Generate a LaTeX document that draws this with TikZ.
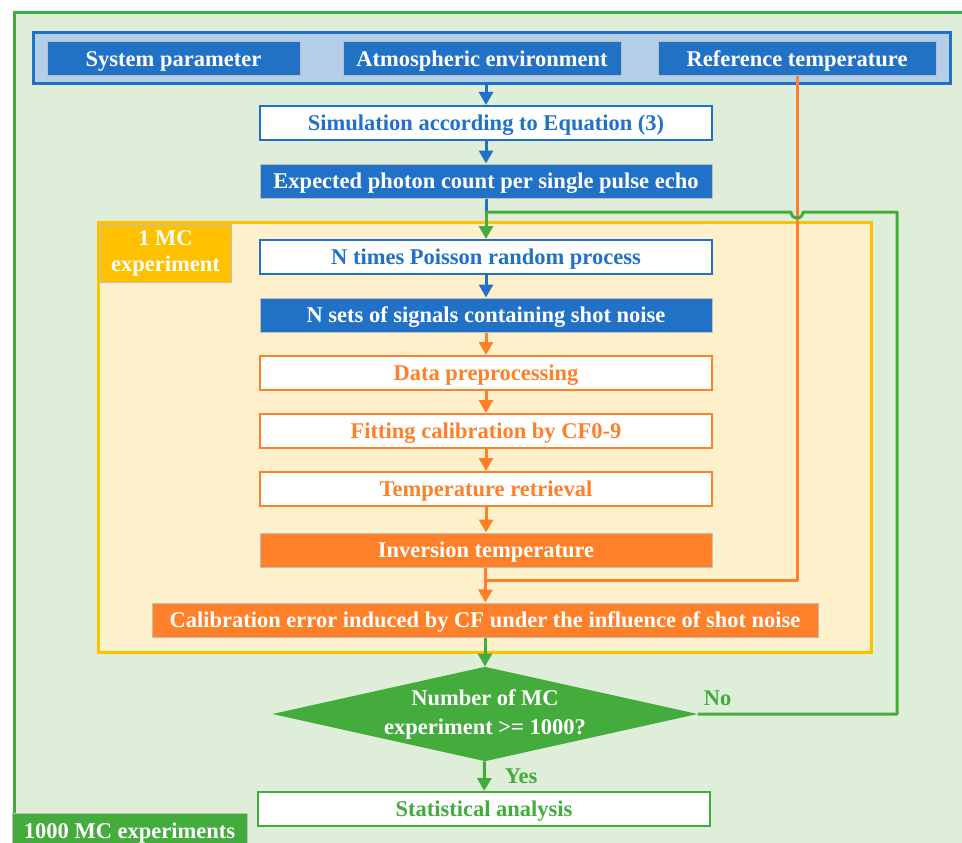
\documentclass[tikz,border=0pt]{standalone}
\usepackage{fontspec}
\setmainfont{Liberation Serif}
\usetikzlibrary{shapes.geometric,arrows.meta}

\definecolor{cBlue}{RGB}{33,114,199}
\definecolor{cLightBlue}{RGB}{180,206,233}
\definecolor{cGreen}{RGB}{67,172,60}
\definecolor{cLightGreen}{RGB}{223,238,217}
\definecolor{cYellow}{RGB}{255,192,0}
\definecolor{cLightYellow}{RGB}{255,240,204}
\definecolor{cOrange}{RGB}{255,128,40}
\definecolor{cGray}{RGB}{190,190,190}

\begin{document}
\begin{tikzpicture}[
	x=1pt, y=-1pt,
	% Define the style for the nodes
	every node/.style={font=\fontsize{22.5}{27}\selectfont\bfseries, inner sep=0pt},
	flowbox/.style={rectangle, minimum width=452, minimum height=34, text height=20, text depth=5},
	blueFill/.style={flowbox, fill=cBlue, draw=cGray, line width=1, text=white},
	blueLine/.style={flowbox, fill=white, draw=cBlue, line width=2, text=cBlue},
	orangeFill/.style={flowbox, fill=cOrange, draw=cGray, line width=1, text=white},
	orangeLine/.style={flowbox, fill=white, draw=cOrange, line width=2, text=cOrange},
	greenLine/.style={flowbox, fill=white, draw=cGreen, line width=2, text=cGreen},
	tagbox/.style={rectangle, draw=cGray, line width=1, text=white, align=center},
	% Define the style for the connectors
	link/.style={line width=3},
	linkArrow/.style={line width=3, -{Triangle[width=14pt,length=13pt]}}
	]
	
	\useasboundingbox (0,0) rectangle (962,843);
	\clip (0,0) rectangle (962,843);
	
	% --- FRAMES ---
	\draw[cGreen, line width=3, fill=cLightGreen] (14,13) rectangle (990,870);
	\node (inputs) at (491.5,58.5) [rectangle, minimum width=917, minimum height=51, fill=cLightBlue, draw=cBlue, line width=3] {};
	\node (mcFrame) at (484.5,437) [rectangle, minimum width=773, minimum height=430, fill=cLightYellow, draw=cYellow, line width=3] {};
	\node (mcTag) at (165.5,253) [tagbox, fill=cYellow, minimum width=131, minimum height=58, font=\fontsize{22.5}{26}\selectfont\bfseries] {\raisebox{-3pt}{1 MC}\\\raisebox{-3pt}{experiment}};
	\node (allTag) at (129.5,831) [tagbox, fill=cGreen, minimum width=235, minimum height=36, text height=20, text depth=5] {1000 MC experiments};
	
	% --- VERTICES ---
	% Format: \node (internal_name) at (x,y) [style] {text};
	
	\node (sysPar) at (173.5,59) [blueFill, minimum width=253] {System parameter};
	\node (atmEnv) at (482,59) [blueFill, minimum width=278] {Atmospheric environment};
	\node (refTemp) at (797,59) [blueFill, minimum width=278] {Reference temperature};
	
	\node (simEq) at (486,123) [blueLine] {Simulation according to Equation (3)};
	\node (expCount) at (486,181) [blueFill] {Expected photon count per single pulse echo};
	\node (poisson) at (486,257) [blueLine] {N times Poisson random process};
	\node (shotSig) at (486,315) [blueFill] {N sets of signals containing shot noise};
	\node (preProc) at (486,373) [orangeLine] {Data preprocessing};
	\node (fitCal) at (486,431) [orangeLine] {Fitting calibration by CF0-9};
	\node (tempRet) at (486,489) [orangeLine] {Temperature retrieval};
	\node (invTemp) at (486,550) [orangeFill] {Inversion temperature};
	\node (calErr) at (485,620) [orangeFill, minimum width=666] {Calibration error induced by CF under the influence of shot noise};
	\node (check) at (485,714) [diamond, aspect=4.5, fill=cGreen, text=white, align=center, font=\fontsize{22.5}{29}\selectfont\bfseries] {\raisebox{-2pt}{Number of MC}\\\raisebox{-2pt}{experiment >= 1000?}};
	\node (stats) at (484,809) [greenLine] {Statistical analysis};
	
	\coordinate (loopJoin) at (486,212);
	\coordinate (loopCorner) at (897,212);
	\coordinate (refJoin) at (486,580);
	
	% --- EDGES ---
	
	\draw[linkArrow, cBlue] (simEq.north |- inputs.south) -- (simEq.north); % Inputs into simulation
	\draw[linkArrow, cBlue] (simEq) -- (expCount);
	\draw[link, cBlue] (expCount) -- (loopJoin);
	\draw[linkArrow, cGreen] (loopJoin) -- (poisson);
	\draw[linkArrow, cBlue] (poisson) -- (shotSig);
	\draw[linkArrow, cOrange] (shotSig) -- (preProc);
	\draw[linkArrow, cOrange] (preProc) -- (fitCal);
	\draw[linkArrow, cOrange] (fitCal) -- (tempRet);
	\draw[linkArrow, cOrange] (tempRet) -- (invTemp);
	\draw[linkArrow, cOrange] (invTemp) -- (calErr);
	\draw[link, cOrange, line join=round] (refTemp) |- (refJoin); % Reference temperature joins
	\draw[linkArrow, cGreen] (calErr) -- (check);
	\draw[linkArrow, cGreen] (check) -- node[right=19pt, text=cGreen] {Yes} (stats);
	
	% Loop back for the next experiment, hopping over the orange line
	\draw[link, cGreen, line join=round] (check.east) -- node[above=7pt, pos=0.1, text=cGreen] {No} (check.east -| loopCorner) -- (loopCorner) -- (803,212) arc (0:180:6) -- (loopJoin);
	
\end{tikzpicture}
\end{document}
